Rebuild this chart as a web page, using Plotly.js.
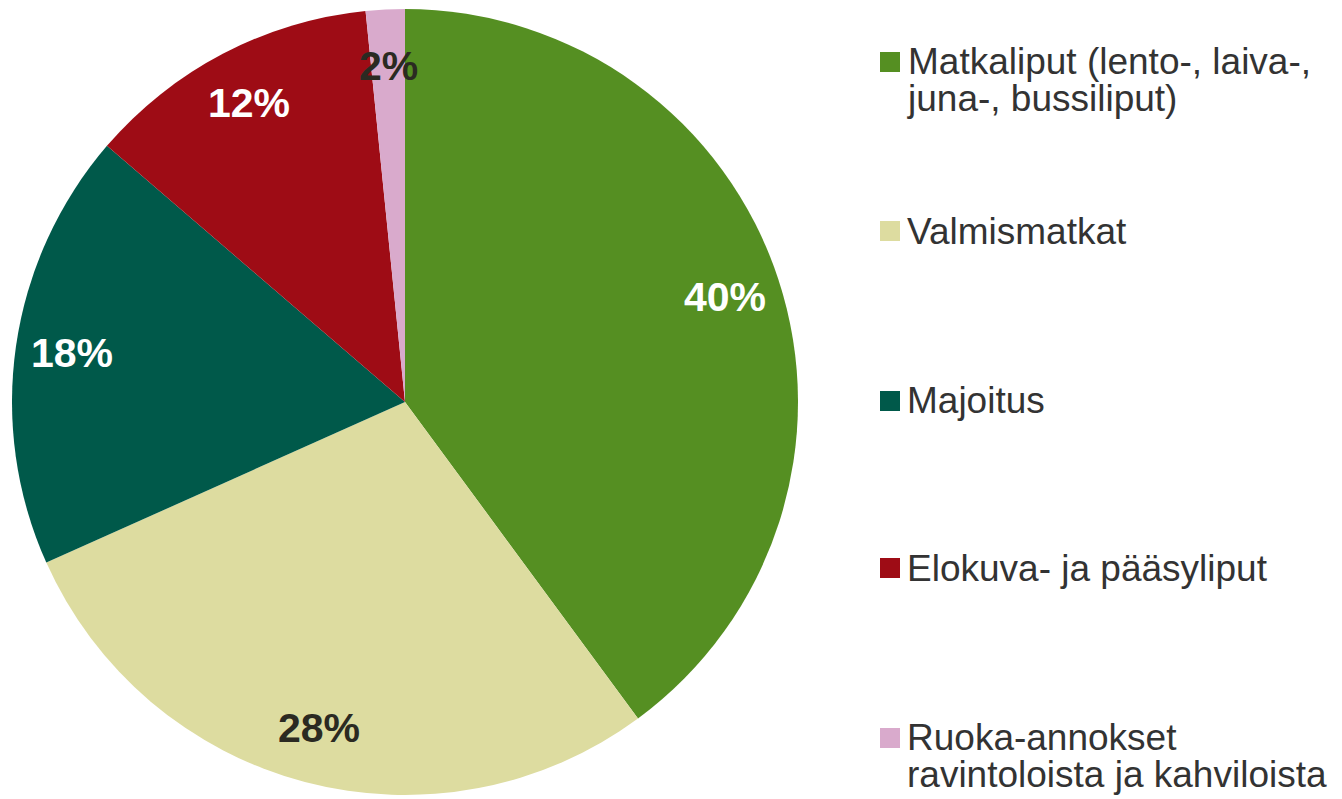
<!DOCTYPE html>
<html><head><meta charset="utf-8">
<script src="https://cdn.plot.ly/plotly-3.0.1.min.js"></script>
<style>html,body{margin:0;padding:0;background:#fff}#chart{width:1342px;height:799px}</style>
</head><body><div id="chart"></div>
<script>
// ---- data ----
const categories = [
  "Matkaliput (lento-, laiva-,<br>juna-, bussiliput)",
  "Valmismatkat",
  "Majoitus",
  "Elokuva- ja pääsyliput",
  "Ruoka-annokset<br>ravintoloista ja kahviloista"
];
const shares = [39.9, 28.4, 18.0, 12.1, 1.6];
const sliceColors = ["#558F22", "#DDDCA0", "#00594A", "#9E0C15", "#D9AACC"];
const labelColors = ["#FFFFFF", "#2B2A22", "#FFFFFF", "#FFFFFF", "#2B2A22"];

// ---- layout constants (pixels) ----
const W = 1342, H = 799;
const CX = 405, CY = 402, R = 393;
const LABEL_R = 0.857;
const legendRowY = [62, 231, 401, 568, 738];
const MARK_X = 880, MARK_SIZE = 20, TEXT_X = 905, LINE_H = 36.7;
const LEGEND_FONT_SIZE = 37;
const FONT = "Liberation Sans, Arial, sans-serif";

const total = shares.reduce((a, b) => a + b, 0);
const annotations = [];
const shapes = [];
let cum = 0;
shares.forEach((v, i) => {
  const mid = (cum + v / 2) / total * 2 * Math.PI;
  cum += v;
  const px = CX + LABEL_R * R * Math.sin(mid);
  const py = CY - LABEL_R * R * Math.cos(mid);
  annotations.push({
    x: px / W, y: 1 - py / H, xref: 'paper', yref: 'paper',
    xanchor: 'center', yanchor: 'middle', showarrow: false,
    text: '<b>' + Math.round(v / total * 100) + '%</b>',
    font: {family: FONT, size: 41, color: labelColors[i]}
  });
});

categories.forEach((c, i) => {
  const lines = c.split('<br>');
  const yc = legendRowY[i] + LINE_H * (lines.length - 1) / 2;
  annotations.push({
    x: TEXT_X / W, y: 1 - yc / H, xref: 'paper', yref: 'paper',
    xanchor: 'left', yanchor: 'middle', align: 'left', showarrow: false,
    // line spacing is 1.3 x the base size; glyphs use the span size
    text: lines.map(l => '<span style="font-size:' + LEGEND_FONT_SIZE + 'px">' + l + '</span>').join('<br>'),
    font: {family: FONT, size: LINE_H / 1.3, color: '#333333'}
  });
  shapes.push({
    type: 'rect', xref: 'paper', yref: 'paper',
    x0: MARK_X / W, x1: (MARK_X + MARK_SIZE) / W,
    y0: 1 - (legendRowY[i] + MARK_SIZE / 2) / H, y1: 1 - (legendRowY[i] - MARK_SIZE / 2) / H,
    fillcolor: sliceColors[i], line: {width: 0}
  });
});

const trace = {
  type: 'pie', values: shares, labels: categories, sort: false,
  direction: 'clockwise', rotation: 0,
  marker: {colors: sliceColors, line: {color: '#ffffff', width: 0}},
  textinfo: 'none', hoverinfo: 'label+percent', showlegend: false,
  domain: {x: [(CX - R) / W, (CX + R) / W], y: [1 - (CY + R) / H, 1 - (CY - R) / H]}
};

Plotly.newPlot('chart', [trace], {
  width: W, height: H, margin: {l: 0, r: 0, t: 0, b: 0},
  paper_bgcolor: '#ffffff', plot_bgcolor: '#ffffff',
  showlegend: false, annotations: annotations, shapes: shapes
}, {displayModeBar: false, staticPlot: true});
</script>
</body></html>
